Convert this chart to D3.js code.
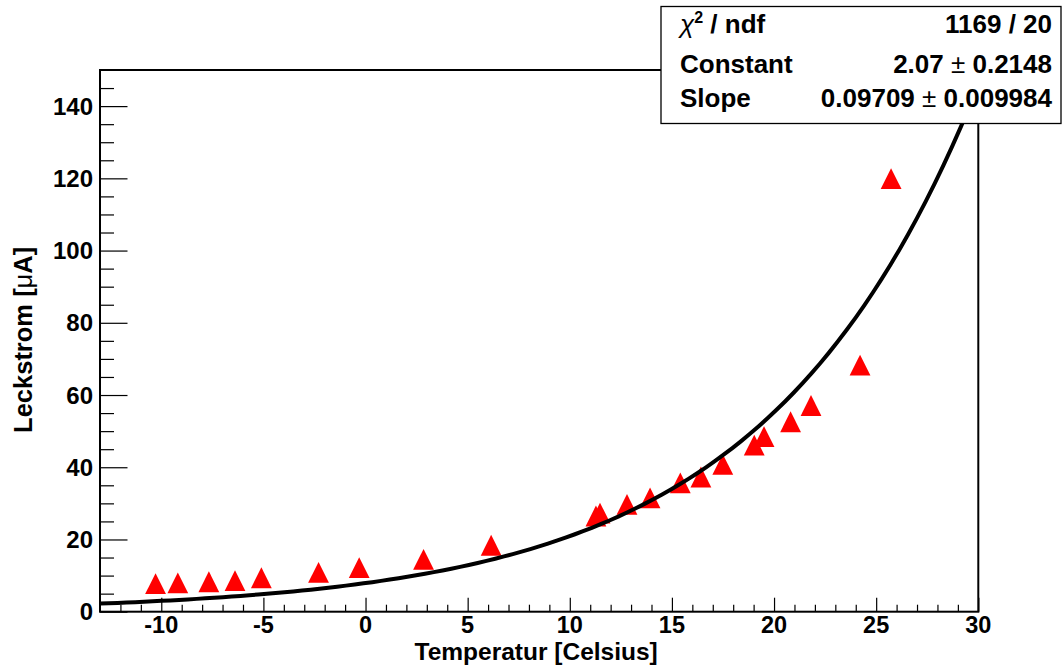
<!DOCTYPE html>
<html><head><meta charset="utf-8">
<script src="https://cdn.jsdelivr.net/npm/d3@7"></script>
<style>body{margin:0;background:#fff}svg{display:block}</style>
</head><body><svg id="c" width="1062" height="665"></svg>
<script>
// Data
const temperatures = [-10.28,-9.19,-7.67,-6.39,-5.10,-2.30,-0.31,2.84,6.15,11.28,11.48,12.80,13.93,15.41,16.42,17.49,19.03,19.51,20.81,21.81,24.21,25.73];
const currents     = [7.8,8.0,8.3,8.6,9.4,10.9,12.2,14.5,18.4,26.5,27.3,29.7,31.5,35.7,37.3,40.8,46.1,48.5,52.6,57.1,68.3,119.9];
const fitParams = [2.07, 0.09709]; // expo fit: exp(Constant + Slope*x)
const statLabels = ["χ", "Constant", "Slope"];
const statValues = ["1169 / 20", "2.07", "0.09709"];
const statErrors = [null, "0.2148", "0.009984"];
const xTickValues = [-10,-5,0,5,10,15,20,25,30];
const yTickValues = [0,20,40,60,80,100,120,140];
const xDomain = [-13, 30];
const yDomain = [0, 150];
const xTitle = "Temperatur [Celsius]";
const yTitle = ["Leckstrom [", "μ", "A]"];

const svg = d3.select("#c");
const FONT = "'Liberation Sans', Arial, Helvetica, sans-serif";
const L = 100, R = 978.3, T = 70, B = 611.7;
const x = d3.scaleLinear().domain(xDomain).range([L, R]);
const y = d3.scaleLinear().domain(yDomain).range([B, T]);

svg.append("rect").attr("width",1062).attr("height",665).attr("fill","#fff");

// axes
const xMinor = d3.range(-12, 31, 1).filter(v => v % 5 !== 0);
const yMinor = d3.range(5, 150, 5).filter(v => v % 20 !== 0);
const xAxis = d3.axisBottom(x).tickValues(xTickValues).tickSize(-14).tickFormat("");
const xAxisMinor = d3.axisBottom(x).tickValues(xMinor).tickSize(-7).tickFormat("");
const yAxis = d3.axisLeft(y).tickValues(yTickValues).tickSize(-27.5).tickFormat("");
const yAxisMinor = d3.axisLeft(y).tickValues(yMinor).tickSize(-14).tickFormat("");
function styleAxis(g){ g.select(".domain").remove(); g.selectAll("line").attr("stroke","#000").attr("stroke-width",1.2); }
svg.append("g").attr("transform",`translate(0,${B})`).call(xAxis).call(styleAxis);
svg.append("g").attr("transform",`translate(0,${B})`).call(xAxisMinor).call(styleAxis);
svg.append("g").attr("transform",`translate(${L},0)`).call(yAxis).call(styleAxis);
svg.append("g").attr("transform",`translate(${L},0)`).call(yAxisMinor).call(styleAxis);

// tick labels
svg.append("g").selectAll("text").data(xTickValues).join("text")
  .attr("x", d => x(d)).attr("y", B + 21.5).attr("text-anchor","middle")
  .attr("font-family",FONT).attr("font-weight","bold").attr("font-size",23.5).text(d => d);
svg.append("g").selectAll("text").data(yTickValues).join("text")
  .attr("x", L - 7).attr("y", d => y(d) + 8.5).attr("text-anchor","end")
  .attr("font-family",FONT).attr("font-weight","bold").attr("font-size",24).text(d => d);

// frame
svg.append("rect").attr("x",L).attr("y",T).attr("width",R-L).attr("height",B-T)
  .attr("fill","none").attr("stroke","#000").attr("stroke-width",2);

// titles
svg.append("text").attr("x",(L+R)/2 - 3).attr("y",659.6).attr("text-anchor","middle")
  .attr("font-family",FONT).attr("font-weight","bold").attr("font-size",24.5).text(xTitle);
const yt = svg.append("text").attr("transform",`translate(32,${(T+B)/2 - 1}) rotate(-90)`).attr("text-anchor","middle")
  .attr("font-family",FONT).attr("font-weight","bold").attr("font-size",25.5);
yt.append("tspan").text(yTitle[0]);
yt.append("tspan").attr("font-weight","normal").text(yTitle[1]);
yt.append("tspan").text(yTitle[2]);

// clip
svg.append("clipPath").attr("id","fr").append("rect").attr("x",L).attr("y",T).attr("width",R-L).attr("height",B-T);

// markers
const pts = temperatures.map((t,i) => [t, currents[i]]);
const r = 10.4;
svg.append("g").attr("clip-path","url(#fr)").selectAll("path").data(pts).join("path")
  .attr("d", d => { const cx = x(d[0]), cy = y(d[1]); return `M${cx-r},${cy+r}L${cx+r},${cy+r}L${cx},${cy-r}Z`; })
  .attr("fill","#ff0000");

// fit curve
const xs = d3.range(0, 101).map(i => xDomain[0] + (xDomain[1]-xDomain[0]) * i / 100);
const line = d3.line().x(d => x(d)).y(d => y(Math.exp(fitParams[0] + fitParams[1]*d)));
svg.append("path").attr("clip-path","url(#fr)").datum(xs).attr("d", line)
  .attr("fill","none").attr("stroke","#000").attr("stroke-width",4).attr("stroke-linejoin","round");

// stats box
const bx0 = 661, by0 = 6.5, bx1 = 1061, by1 = 123.5;
svg.append("rect").attr("x",bx0).attr("y",by0).attr("width",bx1-bx0).attr("height",by1-by0)
  .attr("fill","#fff").attr("stroke","#000").attr("stroke-width",1.3);
const rowBase = [32.5, 72.5, 107];
const st = svg.append("g").attr("font-family",FONT).attr("font-weight","bold").attr("font-size",26);
// labels
const t0 = st.append("text").attr("x",680).attr("y",rowBase[0]);
t0.append("tspan").attr("font-weight","normal").attr("font-style","italic").text(statLabels[0]);
t0.append("tspan").attr("font-size",16).attr("dy",-10).text("2");
t0.append("tspan").attr("dy",10).text(" / ndf");
st.append("text").attr("x",680).attr("y",rowBase[1]).text(statLabels[1]);
st.append("text").attr("x",680).attr("y",rowBase[2]).text(statLabels[2]);
// values
statValues.forEach((v,i) => {
  const tx = st.append("text").attr("x",1052).attr("y",rowBase[i]).attr("text-anchor","end");
  tx.append("tspan").text(v);
  if (statErrors[i] !== null) {
    tx.append("tspan").attr("font-weight","normal").text(" ± ");
    tx.append("tspan").text(statErrors[i]);
  }
});
</script></body></html>
